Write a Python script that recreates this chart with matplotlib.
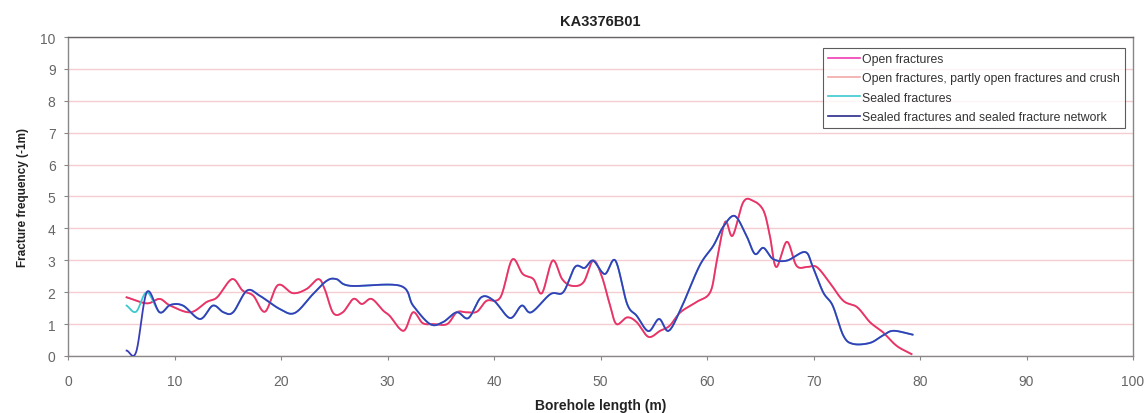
import numpy as np
import matplotlib
matplotlib.use("Agg")
import matplotlib.pyplot as plt
from matplotlib.lines import Line2D

plt.rcParams['font.family'] = ['Liberation Sans', 'DejaVu Sans']

title = "KA3376B01"
xlabel = "Borehole length (m)"
ylabel = "Fracture frequency (-1m)"
series_names = ["Open fractures",
                "Open fractures, partly open fractures and crush",
                "Sealed fractures",
                "Sealed fractures and sealed fracture network"]

open_x = [5.5, 7.4, 8.6, 9.6, 11.5, 13.0, 14.0, 15.4, 16.4, 17.4, 18.5, 19.7, 21.1, 22.4,
          23.5, 24.1, 24.9, 25.8, 26.8, 27.6, 28.5, 29.6, 30.2, 31.5, 32.4, 33.3, 34.3,
          35.6, 36.5, 37.4, 38.4, 39.3, 40.6, 41.7, 42.7, 43.7, 44.5, 45.5, 46.4, 47.3,
          48.4, 49.3, 50.1, 50.9, 51.5, 52.5, 53.4, 54.5, 55.6, 56.5, 57.5, 59.0, 60.3,
          60.9, 61.7, 62.4, 63.4, 64.3, 65.3, 65.9, 66.5, 67.5, 68.4, 69.4, 70.3, 71.5,
          72.8, 74.1, 75.3, 76.5, 77.8, 79.2]
open_y = [1.84, 1.65, 1.79, 1.58, 1.37, 1.69, 1.84, 2.41, 2.05, 1.89, 1.39, 2.22, 1.97, 2.1,
          2.41, 2.1, 1.35, 1.37, 1.79, 1.63, 1.79, 1.42, 1.26, 0.79, 1.37, 1.03, 1.0,
          1.0, 1.37, 1.37, 1.39, 1.73, 1.84, 3.02, 2.57, 2.41, 1.97, 2.99, 2.41, 2.2,
          2.31, 2.99, 2.52, 1.58, 1.0, 1.21, 1.06, 0.6, 0.79, 0.95, 1.37, 1.69, 2.0,
          2.94, 4.2, 3.77, 4.82, 4.87, 4.56, 3.77, 2.79, 3.58, 2.83, 2.79, 2.79, 2.31,
          1.73, 1.53, 1.06, 0.75, 0.32, 0.06]

partly_x = list(open_x)
partly_y = list(open_y)

sealed_x = [5.5, 6.4, 7.4, 8.6, 9.6, 10.8, 12.4, 13.6, 14.6, 15.5, 16.8, 18.0, 19.9, 21.3,
            23.0, 24.3, 25.2, 26.5, 31.2, 32.4, 34.0, 35.2, 36.5, 37.6, 38.8, 40.0, 41.5,
            42.6, 43.5, 45.3, 46.5, 47.6, 48.5, 49.3, 50.4, 51.4, 52.5, 53.4, 54.5, 55.5,
            56.4, 57.6, 59.3, 60.6, 61.5, 62.6, 63.7, 64.5, 65.3, 66.2, 67.5, 69.2, 69.9,
            70.9, 71.8, 72.8, 73.7, 75.3, 76.5, 77.5, 79.3]
sealed_y = [1.58, 1.39, 2.0, 1.37, 1.6, 1.58, 1.16, 1.58, 1.37, 1.37, 2.05, 1.89, 1.47, 1.35,
            1.94, 2.36, 2.41, 2.2, 2.2, 1.58, 1.0, 1.06, 1.37, 1.19, 1.84, 1.73, 1.19,
            1.58, 1.37, 1.94, 2.0, 2.79, 2.76, 2.99, 2.57, 2.99, 1.63, 1.26, 0.78, 1.16,
            0.79, 1.52, 2.83, 3.46, 4.04, 4.39, 3.77, 3.2, 3.39, 3.04, 2.99, 3.26, 2.83,
            2.0, 1.58, 0.64, 0.38, 0.41, 0.64, 0.79, 0.67]

network_x = [5.5, 6.4] + sealed_x[2:]
network_y = [0.17, 0.13] + sealed_y[2:]


def smooth(x, y, n=20):
    x = np.asarray(x, float)
    y = np.asarray(y, float)
    px = np.concatenate([[2 * x[0] - x[1]], x, [2 * x[-1] - x[-2]]])
    py = np.concatenate([[2 * y[0] - y[1]], y, [2 * y[-1] - y[-2]]])
    xs, ys = [], []
    t = np.linspace(0, 1, n, endpoint=False)
    for i in range(1, len(px) - 2):
        for arr, out in ((px, xs), (py, ys)):
            p0, p1, p2, p3 = arr[i - 1], arr[i], arr[i + 1], arr[i + 2]
            out.extend(0.5 * ((2 * p1) + (-p0 + p2) * t + (2 * p0 - 5 * p1 + 4 * p2 - p3) * t ** 2
                              + (-p0 + 3 * p1 - 3 * p2 + p3) * t ** 3))
    xs.append(x[-1])
    ys.append(y[-1])
    return np.array(xs), np.array(ys)


fig = plt.figure(figsize=(11.47, 4.14), dpi=100)
ax = fig.add_axes([0.0593, 0.1377, 0.9285, 0.7705])

colors = ["#E8336A", "#F4A9A8", "#3CC8D0", "#3A3DB8"]

ax.plot(*smooth(partly_x, partly_y), color=colors[1], lw=1.3, zorder=3)
ax.plot(*smooth(open_x, open_y), color=colors[0], lw=1.3, zorder=4)
ax.plot(*smooth(sealed_x, sealed_y), color=colors[2], lw=1.3, zorder=5)
ax.plot(*smooth(network_x, network_y), color=colors[3], lw=1.3, zorder=6)

handles = [Line2D([], [], color="#F03CB4", lw=1.2),
           Line2D([], [], color=colors[1], lw=1.2),
           Line2D([], [], color=colors[2], lw=1.2),
           Line2D([], [], color="#2A2A8A", lw=1.2)]
leg = ax.legend(handles, series_names, loc="upper right", bbox_to_anchor=(0.9925, 0.9655),
                fontsize=8.8, frameon=True, fancybox=False, edgecolor="#333333",
                handlelength=2.6, handletextpad=0.2, labelspacing=0.6, borderpad=0.4,
                borderaxespad=0.0, labelcolor="#333333")
leg.get_frame().set_linewidth(0.8)

ax.set_xlim(0, 100)
ax.set_ylim(0, 10)
ax.set_xticks(range(0, 101, 10))
ax.set_yticks(range(0, 11, 1))
ax.yaxis.grid(True, color="#F5CDD1", lw=1.0)
ax.set_axisbelow(True)
for s in ax.spines.values():
    s.set_color("#888888")
    s.set_linewidth(1.0)
ax.spines['top'].set_color("#666666")
ax.tick_params(axis="both", colors="#888888", labelcolor="#666666", labelsize=10,
               length=3, direction="out")
ax.tick_params(axis="x", pad=10)
ax.tick_params(axis="y", pad=6)

ax.set_title(title, fontsize=10.5, fontweight="bold", color="#222222", pad=9)
ax.set_xlabel(xlabel, fontsize=10, fontweight="bold", color="#222222", labelpad=7)
ax.set_ylabel(ylabel, fontsize=8.5, fontweight="bold", color="#222222", labelpad=8)

fig.savefig("out.png", dpi=100)
